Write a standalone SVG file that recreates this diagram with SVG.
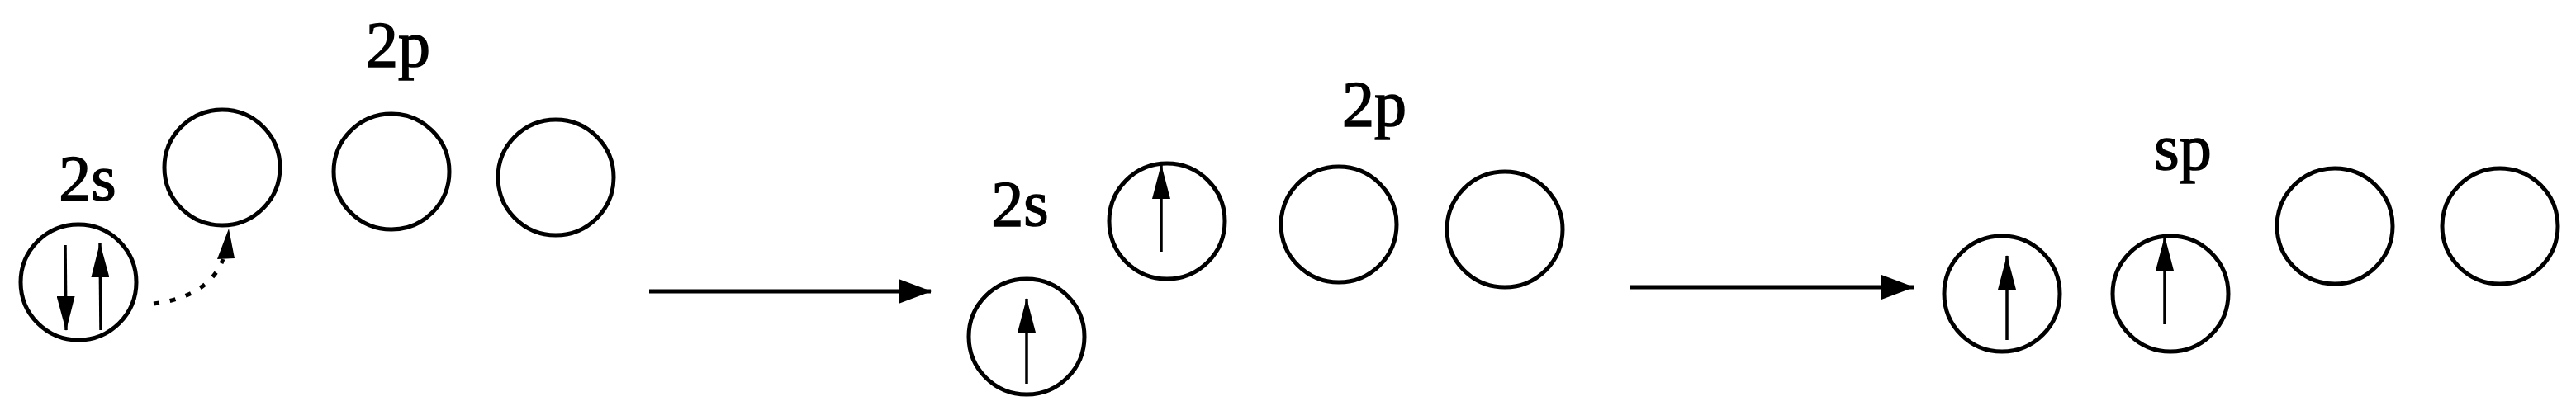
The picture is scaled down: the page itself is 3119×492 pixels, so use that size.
<svg xmlns="http://www.w3.org/2000/svg" width="3119" height="492" viewBox="0 0 3119 492">
<style>
.orb{fill:none;stroke:#000;stroke-width:5}
.lbl{font-family:"Liberation Serif","Times New Roman",serif;font-size:78px;fill:#000;stroke:#000;stroke-width:1.5;text-anchor:middle}
.e{stroke:#000;stroke-width:3.5;fill:none;marker-end:url(#eh)}
.big{stroke:#000;stroke-width:5;fill:none;marker-end:url(#bh)}
</style>
<defs>
<marker id="eh" markerUnits="userSpaceOnUse" viewBox="0 0 42 22" markerWidth="42" markerHeight="22" refX="41" refY="11" orient="auto">
<path d="M0,0 L42,11 L0,22 z" fill="#000"/>
</marker>
<marker id="bh" markerUnits="userSpaceOnUse" viewBox="0 0 40 30" markerWidth="40" markerHeight="30" refX="39" refY="15" orient="auto">
<path d="M0,0 L40,15 L0,30 z" fill="#000"/>
</marker>
</defs>
<rect width="3119" height="492" fill="#fff"/>

<g id="stage1">
<g id="s1-2s">
<text class="lbl" x="106" y="242">2s</text>
<circle class="orb" cx="95" cy="342" r="70"/>
<line class="e" x1="79" y1="297" x2="80" y2="400"/>
<line class="e" x1="122" y1="400" x2="121" y2="295"/>
</g>
<g id="s1-2p">
<text class="lbl" x="482" y="80">2p</text>
<circle class="orb" cx="269" cy="203" r="70"/>
<circle class="orb" cx="474" cy="208" r="70"/>
<circle class="orb" cx="673" cy="215" r="70"/>
</g>
</g>

<g id="stage2">
<g id="s2-2s">
<text class="lbl" x="1235" y="273">2s</text>
<circle class="orb" cx="1243" cy="408" r="70"/>
<line class="e" x1="1243" y1="465" x2="1243" y2="362"/>
</g>
<g id="s2-2p">
<text class="lbl" x="1664" y="152">2p</text>
<circle class="orb" cx="1413" cy="268" r="70"/>
<line class="e" x1="1406" y1="305" x2="1406" y2="200"/>
<circle class="orb" cx="1621" cy="272" r="70"/>
<circle class="orb" cx="1822" cy="278" r="70"/>
</g>
</g>

<g id="stage3">
<g id="s3-sp">
<text class="lbl" x="2643" y="205">sp</text>
<circle class="orb" cx="2424" cy="356" r="70"/>
<line class="e" x1="2430" y1="412" x2="2430" y2="310"/>
<circle class="orb" cx="2628" cy="356" r="70"/>
<line class="e" x1="2621" y1="393" x2="2621" y2="287"/>
</g>
<g id="s3-2p">
<circle class="orb" cx="2827" cy="274" r="70"/>
<circle class="orb" cx="3027" cy="274" r="70"/>
</g>
</g>

<g id="connectors">
<path d="M186,368 C222,364 258,348 270,314" fill="none" stroke="#000" stroke-width="5" stroke-dasharray="7 13"/>
<polygon points="263,314 284,313 277,277" fill="#000"/>
<line class="big" x1="786" y1="353" x2="1127" y2="353"/>
<line class="big" x1="1974" y1="348" x2="2317" y2="348"/>
</g>
</svg>
